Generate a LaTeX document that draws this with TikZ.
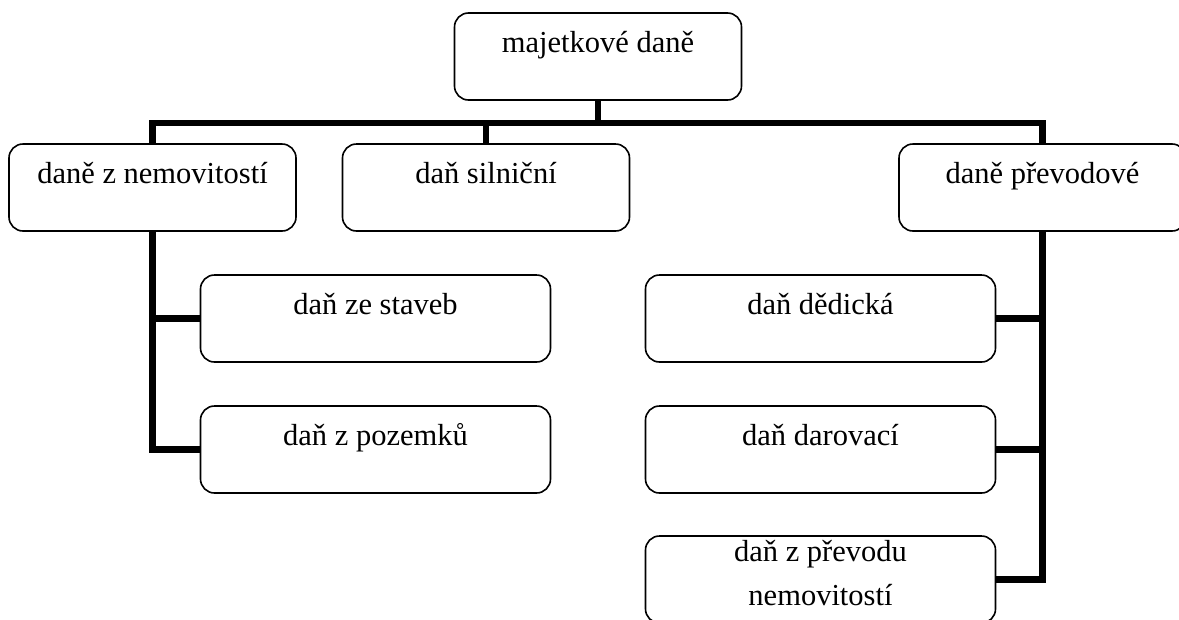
\documentclass[tikz,border=0pt]{standalone}
\usepackage{fontspec}
\setmainfont{Liberation Serif}
\usetikzlibrary{positioning}

\tikzset{
  taxbox/.style={draw, line width=1.6pt, rounded corners=14pt, inner sep=0pt,
    minimum width=287pt, text height=39pt, text depth=48pt, align=center,
    font=\fontsize{30.5}{44}\selectfont},
  widebox/.style={taxbox, minimum width=350pt},
  link/.style={line width=6.5pt, line join=miter},
}

\begin{document}
\begin{tikzpicture}[on grid]
  \useasboundingbox (0,0) rectangle (1179pt,-619pt);
  \clip (0,0) rectangle (1179pt,-619pt);
  \node [taxbox] (top) at (598pt,-56.5pt) {majetkové daně};
  \node [taxbox, below left=131pt and 445.5pt of top] (nemov) {daně z nemovitostí};
  \node [taxbox, right=333.5pt of nemov] (silnic) {daň silniční};
  \node [taxbox, right=890pt of nemov] (prevod) {daně převodové};
  \node [widebox, below right=131pt and 223pt of nemov] (stavby) {daň ze staveb};
  \node [widebox, below=131pt of stavby] (pozemky) {daň z pozemků};
  \node [widebox, right=445pt of stavby] (dedic) {daň dědická};
  \node [widebox, below=131pt of dedic] (darov) {daň darovací};
  \node [widebox, below=130pt of darov, text height=69pt, text depth=18pt] (prevnem) {daň z převodu\\nemovitostí};
  \draw [link] (top.south) -- ++(0,-22pt) coordinate (hub);
  \draw [link] (nemov.north) |- (hub) -| (prevod.north);
  \draw [link] (silnic.north) -- (silnic.north |- hub);
  \draw [link] (nemov.south) |- (stavby.west);
  \draw [link] (nemov.south) |- (pozemky.west);
  \draw [link] (prevod.south) |- (dedic.east);
  \draw [link] (prevod.south) |- (darov.east);
  \draw [link] (prevod.south) |- (prevnem.east);
\end{tikzpicture}
\end{document}
